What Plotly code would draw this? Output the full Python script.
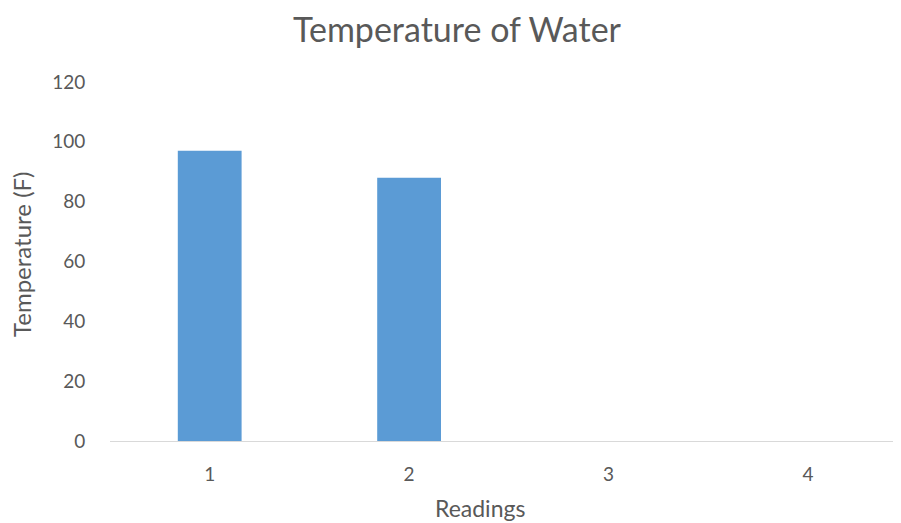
import plotly.graph_objects as go

readings = ["1", "2", "3", "4"]
temps = [97, 88, None, None]
y_ticks = [0, 20, 40, 60, 80, 100, 120]

FONT = "Lato"
GRAY = "#595959"

fig = go.Figure()
fig.add_trace(go.Bar(
    x=readings, y=temps, marker=dict(color="#5B9BD5", line=dict(width=0)),
    width=0.32,
))

# page has an 8px body margin; figure coordinates = page - 8
W, H = 893, 515
L, R, T, B = 102, 1, 74, 82
pw = W - L - R
ph = H - T - B

fig.update_layout(
    width=W, height=H,
    margin=dict(l=L, r=R, t=T, b=B),
    plot_bgcolor="white", paper_bgcolor="white",
    showlegend=False,
    font=dict(family=FONT, color=GRAY, size=14),
    title=dict(text="Temperature of Water", x=449 / W, xanchor="center",
               y=1 - 22 / H, yanchor="middle",
               font=dict(family=FONT, size=34, color=GRAY)),
    xaxis=dict(
        type="category", range=[-0.5, -0.5 + pw / 199.4],
        showline=True, linecolor="#D9D9D9", linewidth=1,
        showgrid=False, zeroline=False,
        ticks="outside", ticklen=16, tickcolor="rgba(0,0,0,0)",
        tickfont=dict(family=FONT, size=19, color=GRAY),
    ),
    yaxis=dict(
        range=[0, 120], tickvals=y_ticks,
        showline=False, showgrid=False, zeroline=False,
        ticks="outside", ticklen=20, tickcolor="rgba(0,0,0,0)",
        tickfont=dict(family=FONT, size=19, color=GRAY),
    ),
    annotations=[
        dict(text="Readings", xref="paper", yref="paper",
             x=(472 - L) / pw, y=-(500 - (H - B)) / ph,
             xanchor="center", yanchor="middle", showarrow=False,
             font=dict(family=FONT, size=23, color=GRAY)),
        dict(text="Temperature (F)", xref="paper", yref="paper",
             x=-(L - 13) / pw, y=1 - (246 - T) / ph,
             xanchor="center", yanchor="middle", showarrow=False, textangle=-90,
             font=dict(family=FONT, size=24, color=GRAY)),
    ],
)

fig.write_html("out.html")
